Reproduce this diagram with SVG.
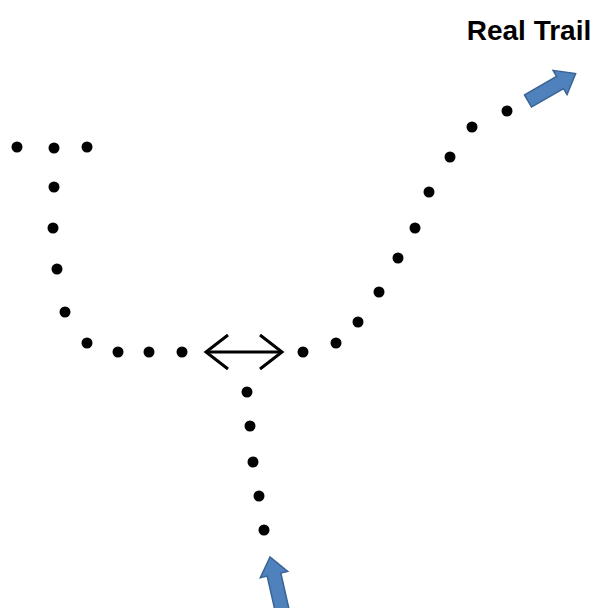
<svg xmlns="http://www.w3.org/2000/svg" width="596" height="608" viewBox="0 0 596 608">
<defs>
<style>
.dot{fill:#000}
.blk{fill:#4F81BD;stroke:#3A6494;stroke-width:1.5;stroke-linejoin:miter}
.dbl{fill:none;stroke:#000;stroke-width:3;stroke-linecap:butt;stroke-linejoin:miter}
.lbl{font-family:"Liberation Sans",Arial,sans-serif;font-weight:bold;font-size:28px;fill:#000}
</style>
</defs>
<rect width="596" height="608" fill="#fff"/>
<g id="label">
<text class="lbl" x="529" y="40" text-anchor="middle">Real Trail</text>
</g>
<g id="trail-dots">
<circle class="dot" cx="17" cy="147" r="5.5"/>
<circle class="dot" cx="54" cy="148" r="5.5"/>
<circle class="dot" cx="87" cy="147" r="5.5"/>
<circle class="dot" cx="54" cy="187" r="5.5"/>
<circle class="dot" cx="53" cy="228" r="5.5"/>
<circle class="dot" cx="57" cy="269" r="5.5"/>
<circle class="dot" cx="65" cy="312" r="5.5"/>
<circle class="dot" cx="87" cy="343" r="5.5"/>
<circle class="dot" cx="118" cy="352" r="5.5"/>
<circle class="dot" cx="149" cy="352" r="5.5"/>
<circle class="dot" cx="182" cy="352" r="5.5"/>
<circle class="dot" cx="303" cy="352" r="5.5"/>
<circle class="dot" cx="336" cy="343" r="5.5"/>
<circle class="dot" cx="358" cy="322" r="5.5"/>
<circle class="dot" cx="379" cy="292" r="5.5"/>
<circle class="dot" cx="398" cy="258" r="5.5"/>
<circle class="dot" cx="415" cy="228" r="5.5"/>
<circle class="dot" cx="429" cy="192" r="5.5"/>
<circle class="dot" cx="450" cy="157" r="5.5"/>
<circle class="dot" cx="472" cy="127" r="5.5"/>
<circle class="dot" cx="507" cy="111" r="5.5"/>
<circle class="dot" cx="247" cy="392" r="5.5"/>
<circle class="dot" cx="250" cy="426" r="5.5"/>
<circle class="dot" cx="253" cy="462" r="5.5"/>
<circle class="dot" cx="259" cy="496" r="5.5"/>
<circle class="dot" cx="264" cy="530" r="5.5"/>
</g>
<g id="connectors">
<g id="double-arrow">
<line class="dbl" x1="206" y1="352" x2="282" y2="352"/>
<polyline class="dbl" points="228,335 206,352 228,369"/>
<polyline class="dbl" points="260,335 282,352 260,369"/>
</g>
<g id="arrow-top">
<polygon class="blk" transform="translate(528,101) rotate(-30)" points="0,-7 37,-7 37,-14 55,0 37,14 37,7 0,7"/>
</g>
<g id="arrow-bottom">
<polygon class="blk" transform="translate(270,557) rotate(-102.8)" points="0,0 -18,-14 -18,-7 -70,-7 -70,7 -18,7 -18,14"/>
</g>
</g>
</svg>
